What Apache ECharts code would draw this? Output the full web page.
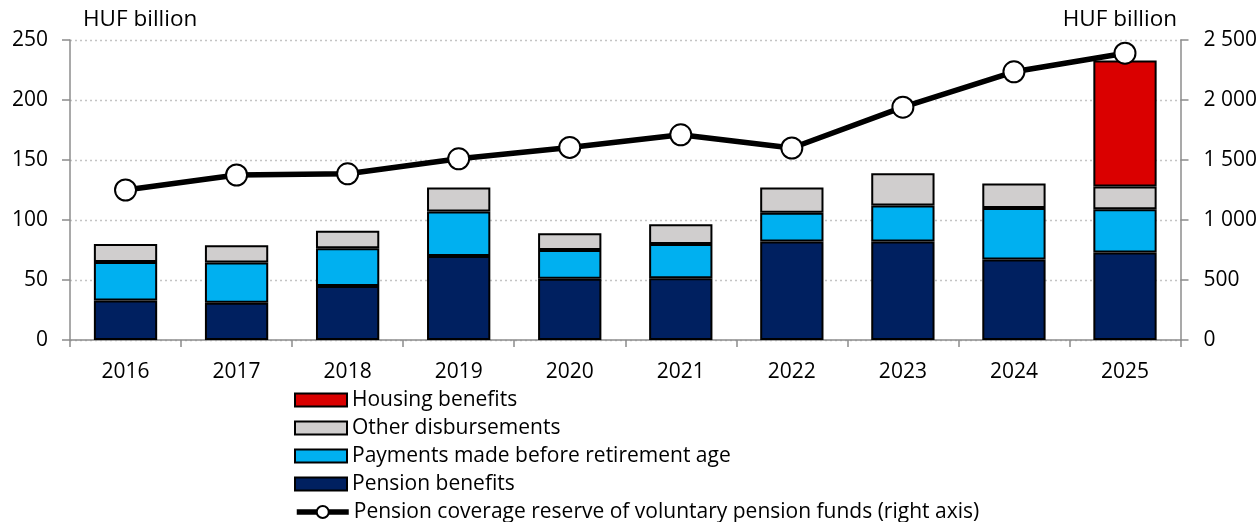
<!DOCTYPE html>
<html>
<head>
<meta charset="utf-8">
<script src="https://cdn.jsdelivr.net/npm/echarts@6/dist/echarts.min.js"></script>
<style>
  html, body { margin: 0; padding: 0; background: #fff; }
  #chart { width: 1260px; height: 522px; }
</style>
</head>
<body>
<div id="chart"></div>
<script>
// Voluntary pension funds: disbursements by type (left axis) and coverage reserve (right axis), HUF billion
const years = ['2016', '2017', '2018', '2019', '2020', '2021', '2022', '2023', '2024', '2025'];
const pensionBenefits = [33, 31, 45, 70, 51, 51.5, 82, 82, 67, 73];
const beforeRetirement = [32, 33.5, 31.5, 37, 24, 28.5, 24, 30, 43, 36];
const otherDisbursements = [15, 14.5, 14.5, 20, 14, 16.5, 21, 27, 20.5, 19];
const housingBenefits = [null, null, null, null, null, null, null, null, null, 105];
const coverageReserve = [1250, 1375, 1385, 1510, 1605, 1710, 1600, 1940, 2235, 2390];

const leftTicks = { min: 0, max: 250, interval: 50 };
const rightTicks = { min: 0, max: 2500, interval: 500 };

const FONT = "'Open Sans', 'Noto Sans', sans-serif";
const AXIS_GREY = '#8c8c8c';

function thousands(v) {
  return String(v).replace(/\B(?=(\d{3})+(?!\d))/g, ' ');
}

function barSeries(name, data, color) {
  return {
    name: name,
    type: 'bar',
    stack: 'total',
    data: data,
    barWidth: '57%',
    itemStyle: { color: color, borderColor: '#000', borderWidth: 2 },
    emphasis: { disabled: true }
  };
}

const LINE_NAME = 'Pension coverage reserve of voluntary pension funds (right axis)';
const legendRows = [
  'Housing benefits',
  'Other disbursements',
  'Payments made before retirement age',
  'Pension benefits',
  LINE_NAME
];
const legendCentres = [400, 428, 456, 484, 512];

const legends = legendRows.map((name, i) => {
  const isLine = name === LINE_NAME;
  return {
    data: [isLine ? { name: name } : { name: name, icon: 'rect' }],
    left: 294,
    top: legendCentres[i] - 11,
    padding: 0,
    itemWidth: 52,
    itemHeight: isLine ? 15 : 13,
    selectedMode: false,
    itemStyle: isLine ? { color: '#fff', borderColor: '#000', borderWidth: 2 } : { borderColor: '#000', borderWidth: 2 },
    lineStyle: isLine ? { color: '#000', width: 5.5 } : undefined,
    textStyle: { fontFamily: FONT, fontSize: 21, lineHeight: 22, color: '#000' }
  };
});

const chart = echarts.init(document.getElementById('chart'), null, { renderer: 'canvas' });
chart.setOption({
  animation: false,
  backgroundColor: '#fff',
  textStyle: { fontFamily: FONT },
  grid: { left: 70, right: 76, top: 40, bottom: 182, containLabel: false },
  legend: legends,
  graphic: [
    { type: 'text', left: 83, top: 8, style: { text: 'HUF billion', font: "22.5px " + FONT, fill: '#000' } },
    { type: 'text', right: 83, top: 8, style: { text: 'HUF billion', font: "22.5px " + FONT, fill: '#000', textAlign: 'right' } }
  ],
  xAxis: {
    type: 'category',
    data: years,
    axisLine: { lineStyle: { color: AXIS_GREY, width: 1.5 } },
    axisTick: { show: true, length: 7, lineStyle: { color: AXIS_GREY, width: 1.5 } },
    axisLabel: { color: '#000', fontSize: 21, fontFamily: FONT, margin: 22 }
  },
  yAxis: [
    {
      type: 'value',
      min: leftTicks.min, max: leftTicks.max, interval: leftTicks.interval,
      axisLine: { show: true, lineStyle: { color: AXIS_GREY, width: 1.5 } },
      axisTick: { show: true, length: 8, lineStyle: { color: AXIS_GREY, width: 1.5 } },
      axisLabel: { color: '#000', fontSize: 21, fontFamily: FONT, margin: 22 },
      splitLine: { show: true, lineStyle: { color: '#c4c4c4', type: [2, 3], width: 1.3 } }
    },
    {
      type: 'value',
      min: rightTicks.min, max: rightTicks.max, interval: rightTicks.interval,
      axisLine: { show: true, lineStyle: { color: AXIS_GREY, width: 1.5 } },
      axisTick: { show: true, length: 8, lineStyle: { color: AXIS_GREY, width: 1.5 } },
      axisLabel: { color: '#000', fontSize: 21, fontFamily: FONT, margin: 23, formatter: thousands },
      splitLine: { show: false }
    }
  ],
  series: [
    barSeries('Pension benefits', pensionBenefits, '#002060'),
    barSeries('Payments made before retirement age', beforeRetirement, '#00B0F0'),
    barSeries('Other disbursements', otherDisbursements, '#D0CECE'),
    barSeries('Housing benefits', housingBenefits, '#DA0000'),
    {
      name: LINE_NAME,
      type: 'line',
      yAxisIndex: 1,
      data: coverageReserve,
      z: 5,
      symbol: 'circle',
      symbolSize: 21,
      lineStyle: { color: '#000', width: 5.5 },
      itemStyle: { color: '#fff', borderColor: '#000', borderWidth: 2 },
      emphasis: { disabled: true }
    }
  ]
});
</script>
</body>
</html>
